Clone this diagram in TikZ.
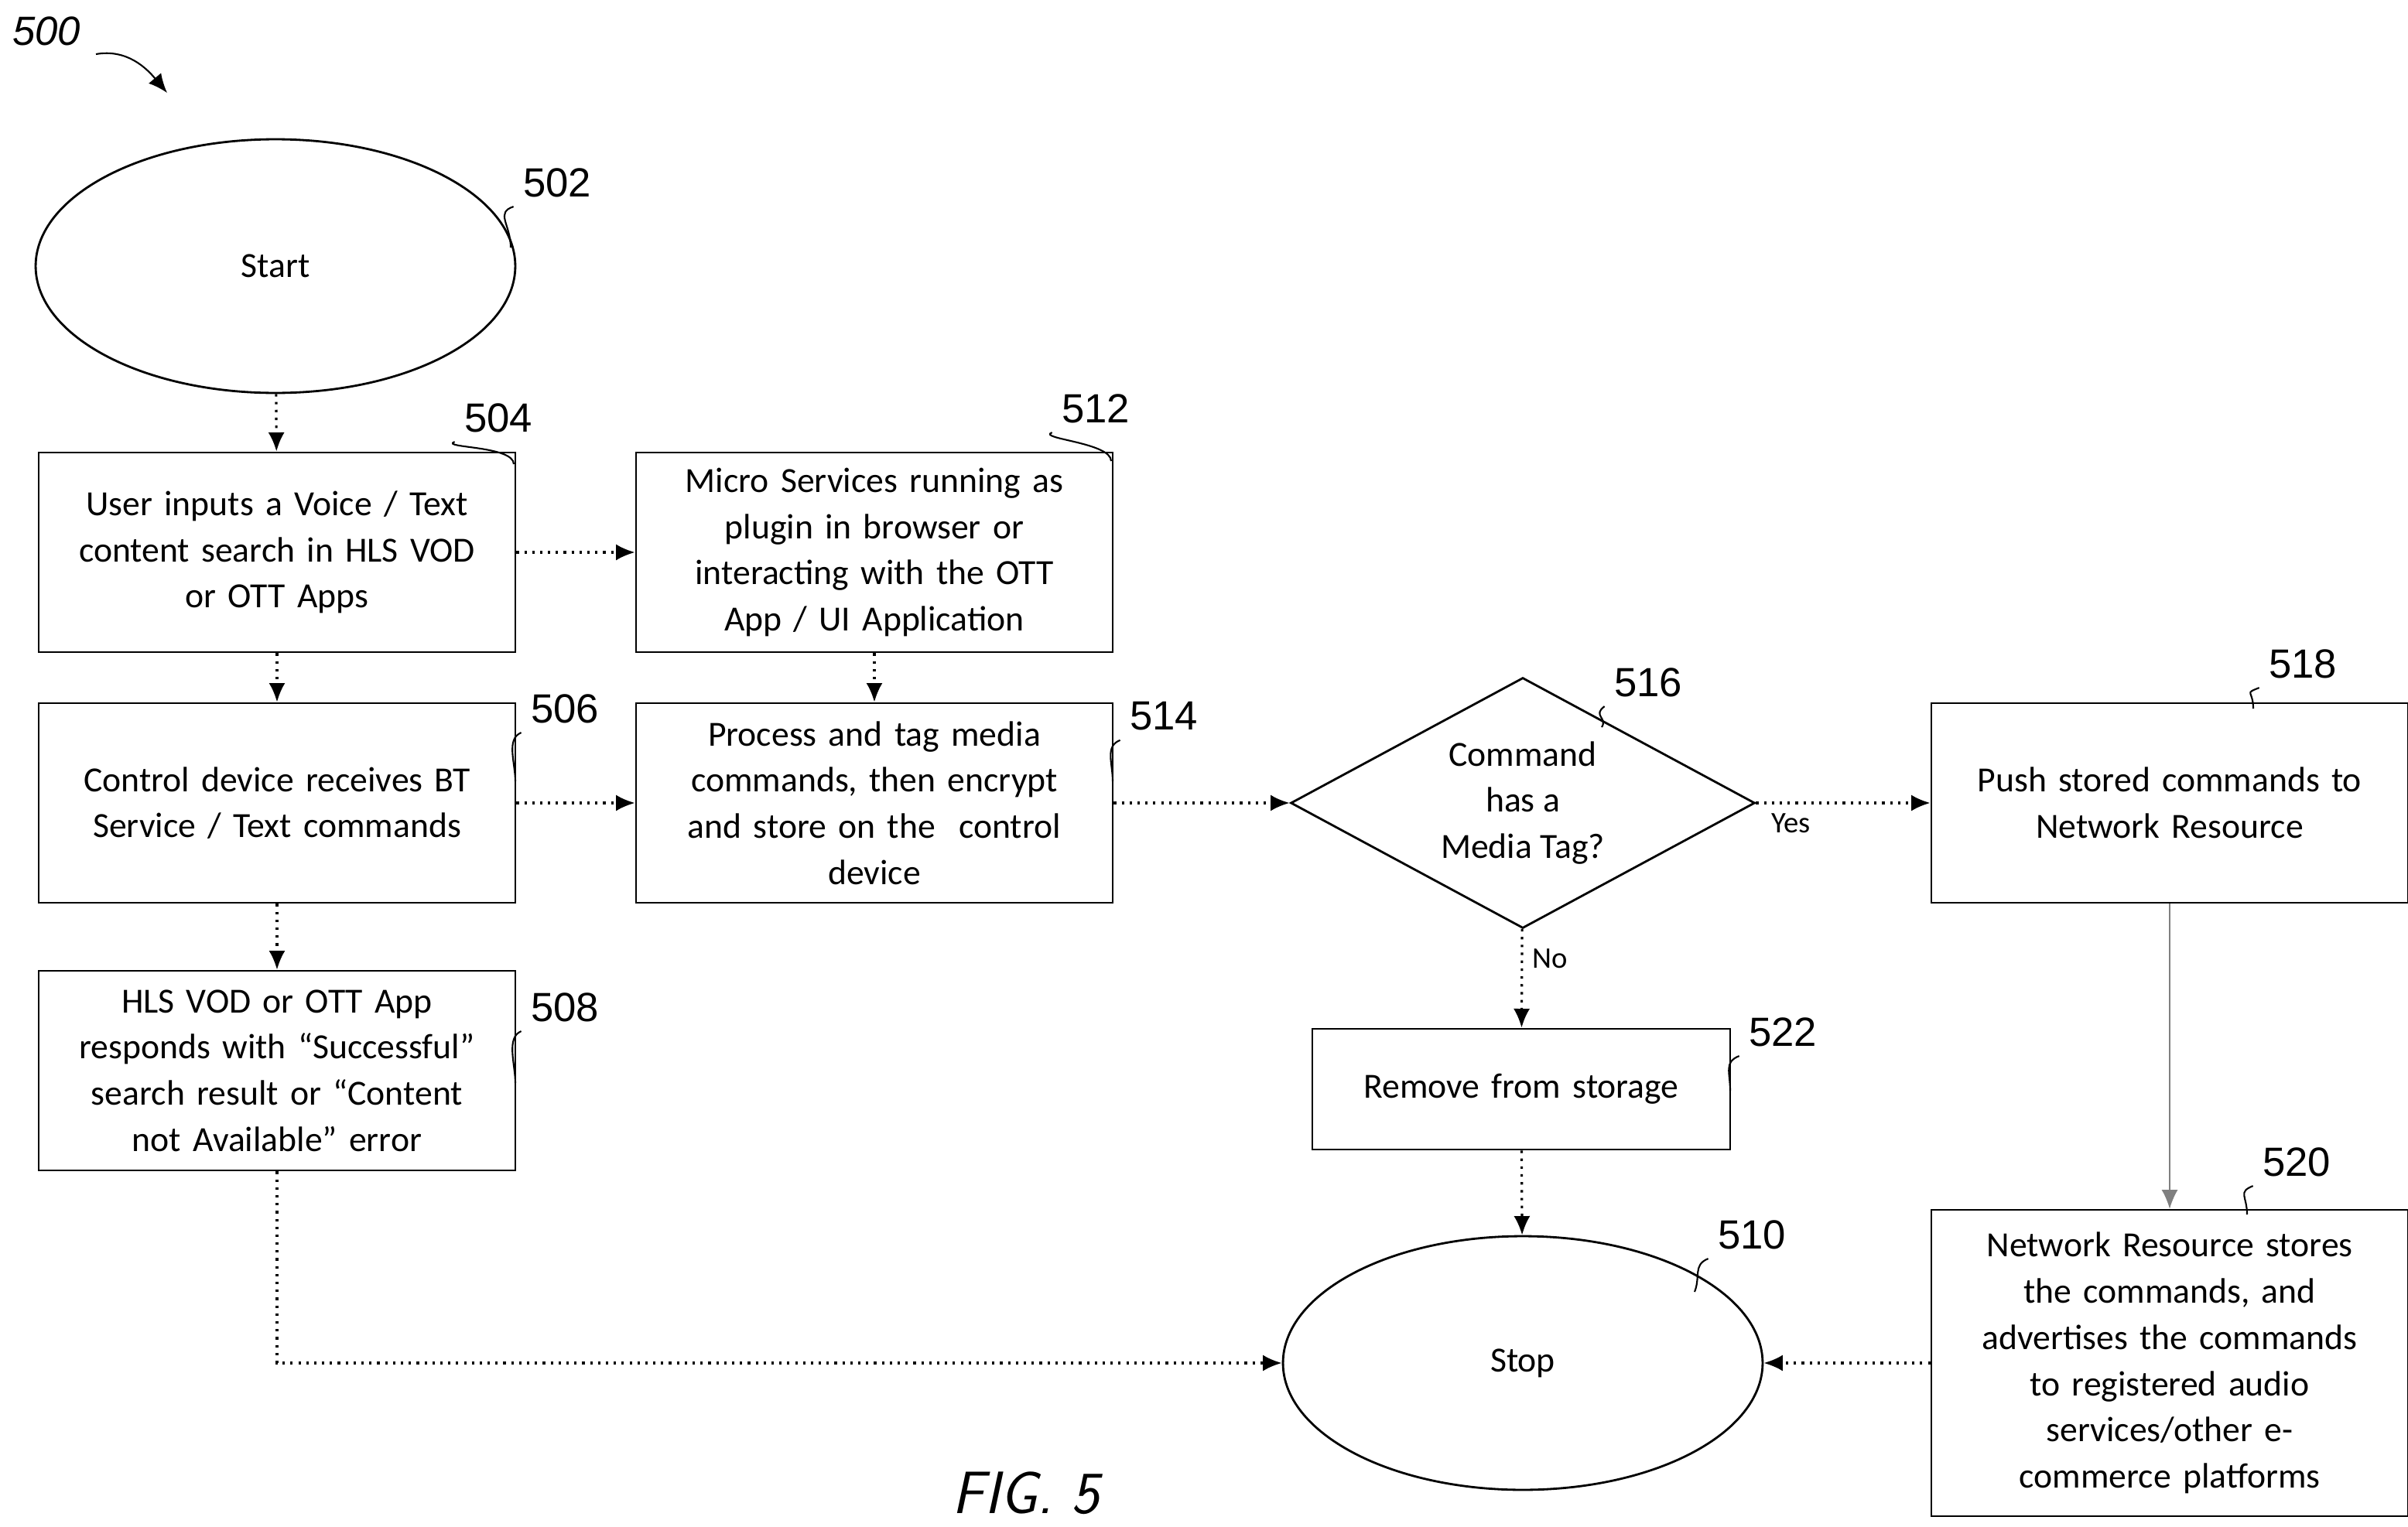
\documentclass[tikz,border=0pt]{standalone}
\usepackage{fontspec}
\setmainfont{Carlito}
\newfontfamily\numfont{Liberation Sans}
\usetikzlibrary{shapes.geometric,arrows.meta,positioning}

\begin{document}
\begin{tikzpicture}[
    x=0.02cm, y=-0.02cm,
    box/.style={rectangle, draw, line width=0.8pt, minimum width=6.16cm, minimum height=2.58cm, text width=6cm, inner sep=1pt, align=center, font=\fontsize{13}{17}\selectfont},
    term/.style={ellipse, draw, line width=0.8pt, minimum width=6.2cm, minimum height=3.28cm, font=\fontsize{13}{17}\selectfont},
    dec/.style={diamond, draw, line width=0.8pt, minimum width=6.0cm, minimum height=3.24cm, aspect=1.9, inner sep=0pt, align=center, font=\fontsize{13}{17}\selectfont},
    num/.style={font=\numfont\fontsize{15}{17}\selectfont},
    lead/.style={line width=0.6pt},
    arrow/.style={-{Latex[length=7pt,width=6pt]}, dotted, line width=0.9pt},
    lbl/.style={font=\fontsize{11}{13}\selectfont}
]
    \useasboundingbox (0,0) rectangle (1556,987);

    % shapes
    \node[term] (start) at (178,172) {Start};
    \node[box] (user) at (179,357) {User inputs a Voice / Text\\content search in HLS VOD\\or OTT Apps};
    \node[box] (micro) at (565,357) {Micro Services running as\\plugin in browser or\\interacting with the OTT\\App / UI Application};
    \node[box] (ctrl) at (179,519) {Control device receives BT\\Service / Text commands};
    \node[box] (tag) at (565,519) {Process and tag media\\commands, then encrypt\\and store on the\ \ control\\device};
    \node[box] (resp) at (179,692) {HLS VOD or OTT App\\responds with “Successful”\\search result or “Content\\not Available” error};
    \node[dec] (media) at (984,519) {Command\\has a\\Media Tag?};
    \node[box] (push) at (1402,519) {Push stored commands to\\Network Resource};
    \node[box, minimum width=5.4cm, minimum height=1.56cm, text width=5.2cm] (remove) at (983,704) {Remove from storage};
    \node[box, minimum height=3.96cm] (store) at (1402,881) {Network Resource stores\\the commands, and\\advertises the commands\\to registered audio\\services/other e-\\commerce platforms};
    \node[term] (stop) at (984,881) {Stop};
    \node[font=\sffamily\itshape\fontsize{22}{26}\selectfont] (fig) at (663,965) {FIG. 5};

    % reference numerals
    \node[num, font=\numfont\itshape\fontsize{15}{17}\selectfont] (n500) at (30,20) {500};
    \draw[lead, -{Latex[length=7pt,width=6pt]}] (62,35) to[out=10, in=130] (108,60);
    \node[num] (n502) at (360,118) {502};
    \draw[lead] (n502.south west) .. controls +(-12,4) and +(0,-15) .. (330,160);
    \node[num] (n504) at (322,270) {504};
    \draw[lead] (n504.south west) .. controls +(-10,4) and +(0,-12) .. (332,300);
    \node[num] (n512) at (708,264) {512};
    \draw[lead] (n512.south west) .. controls +(-10,4) and +(0,-12) .. (718,298);
    \node[num] (n506) at (365,458) {506};
    \draw[lead] (n506.south west) .. controls +(-10,4) and +(0,-12) .. (333,505);
    \node[num] (n514) at (752,463) {514};
    \draw[lead] (n514.south west) .. controls +(-10,4) and +(0,-12) .. (719,505);
    \node[num] (n508) at (365,651) {508};
    \draw[lead] (n508.south west) .. controls +(-10,4) and +(0,-12) .. (333,700);
    \node[num] (n516) at (1065,441) {516};
    \draw[lead] (n516.south west) .. controls +(-8,6) and +(4,-6) .. (1035,470);
    \node[num] (n518) at (1488,429) {518};
    \draw[lead] (n518.south west) .. controls +(-10,4) and +(0,-12) .. (1456,458);
    \node[num] (n522) at (1152,667) {522};
    \draw[lead] (n522.south west) .. controls +(-10,4) and +(0,-12) .. (1118,705);
    \node[num] (n520) at (1484,751) {520};
    \draw[lead] (n520.south west) .. controls +(-10,4) and +(0,-12) .. (1452,785);
    \node[num] (n510) at (1132,798) {510};
    \draw[lead] (n510.south west) .. controls +(-10,4) and +(4,-10) .. (1095,835);

    % connectors
    \draw[arrow] (start) -- (user);
    \draw[arrow] (user) -- (micro);
    \draw[arrow] (user) -- (ctrl);
    \draw[arrow] (micro) -- (tag);
    \draw[arrow] (ctrl) -- (tag);
    \draw[arrow] (ctrl) -- (resp);
    \draw[arrow] (tag) -- (media);
    \draw[arrow] (media) -- node[lbl, below, pos=0.2] {Yes} (push);
    \draw[arrow] (media) -- node[lbl, right, pos=0.3] {No} (remove);
    \draw[arrow] (remove) -- (stop);
    \draw[-{Latex[length=7pt,width=6pt]}, line width=0.5pt, gray] (push) -- (store);
    \draw[arrow] (store) -- (stop);
    \draw[arrow] (resp) |- (stop);
\end{tikzpicture}
\end{document}
